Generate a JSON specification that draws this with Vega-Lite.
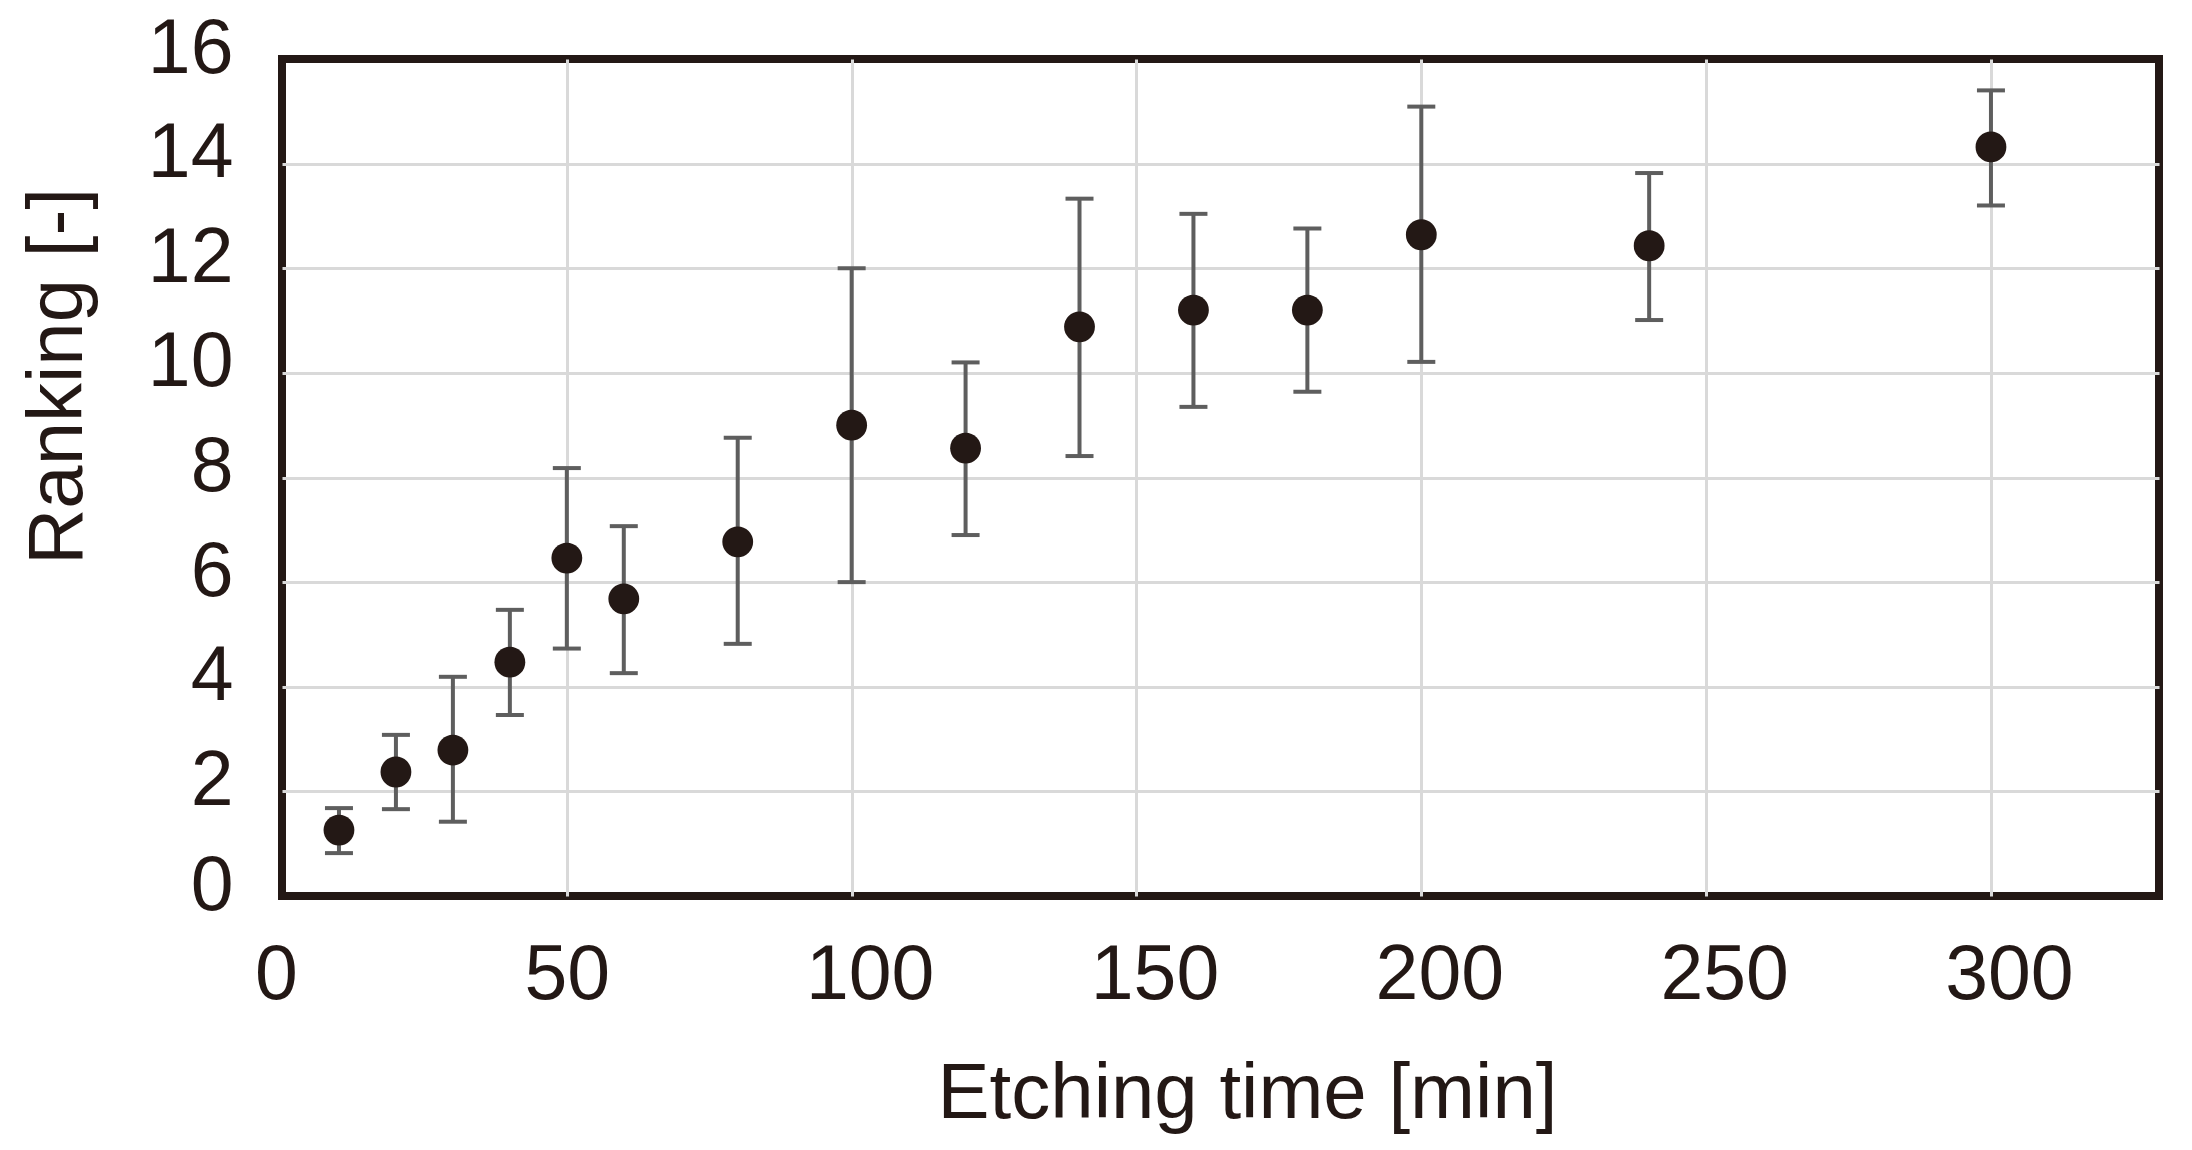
{
  "$schema": "https://vega.github.io/schema/vega-lite/v6.json",
  "width": 1877,
  "height": 837,
  "autosize": {"type": "none"},
  "padding": {"left": 282, "top": 59, "right": 33, "bottom": 254},
  "background": "#ffffff",
  "config": {
    "view": {"stroke": "#231815", "strokeWidth": 8},
    "font": "Liberation Sans",
    "axis": {
      "labelFont": "Liberation Sans",
      "titleFont": "Liberation Sans",
      "labelColor": "#231815",
      "titleColor": "#231815",
      "labelFontSize": 77,
      "titleFontSize": 78,
      "titleFontWeight": "normal",
      "domain": false,
      "ticks": false,
      "tickSize": 0,
      "gridColor": "#d9d9d9",
      "gridWidth": 3
    }
  },
  "data": {
    "values": [
      {"t": 10, "rank": 1.26, "lo": 0.82, "hi": 1.68},
      {"t": 20, "rank": 2.37, "lo": 1.66, "hi": 3.08},
      {"t": 30, "rank": 2.79, "lo": 1.42, "hi": 4.19},
      {"t": 40, "rank": 4.47, "lo": 3.46, "hi": 5.47},
      {"t": 50, "rank": 6.46, "lo": 4.73, "hi": 8.18},
      {"t": 60, "rank": 5.68, "lo": 4.26, "hi": 7.07},
      {"t": 80, "rank": 6.77, "lo": 4.82, "hi": 8.76},
      {"t": 100, "rank": 9.0, "lo": 6.0, "hi": 12.0},
      {"t": 120, "rank": 8.56, "lo": 6.9, "hi": 10.2},
      {"t": 140, "rank": 10.88, "lo": 8.41, "hi": 13.33},
      {"t": 160, "rank": 11.2, "lo": 9.35, "hi": 13.04},
      {"t": 180, "rank": 11.2, "lo": 9.64, "hi": 12.76},
      {"t": 200, "rank": 12.64, "lo": 10.21, "hi": 15.09},
      {"t": 240, "rank": 12.43, "lo": 11.01, "hi": 13.82},
      {"t": 300, "rank": 14.32, "lo": 13.2, "hi": 15.4}
    ]
  },
  "encoding": {
    "x": {
      "field": "t",
      "type": "quantitative",
      "scale": {"domain": [0, 329.5], "nice": false, "zero": false},
      "axis": {
        "values": [0, 50, 100, 150, 200, 250, 300],
        "title": "Etching time [min]",
        "labelPadding": 41,
        "labelFlush": false,
        "labelOffset": {"condition": [{"test": "datum.value >= 100", "value": 18}, {"test": "datum.value == 0", "value": -6}], "value": 0},
        "gridOpacity": {"condition": {"test": "datum.value == 0", "value": 0}, "value": 1},
        "titleX": 965,
        "titleY": 221,
        "titleBaseline": "alphabetic",
        "titleAlign": "center"
      }
    }
  },
  "layer": [
    {
      "mark": {"type": "rule", "color": "#5e5e5e", "strokeWidth": 4},
      "encoding": {
        "y": {
          "field": "lo",
          "type": "quantitative",
          "scale": {"domain": [0, 16], "nice": false},
          "axis": {
            "values": [0, 2, 4, 6, 8, 10, 12, 14, 16],
            "title": "Ranking [-]",
            "labelPadding": 49,
            "labelOffset": -10,
            "labelFlush": false,
            "gridOpacity": {"condition": {"test": "datum.value == 0 || datum.value == 16", "value": 0}, "value": 1},
            "titleAngle": -90,
            "titleX": -201,
            "titleY": 317,
            "titleBaseline": "alphabetic",
            "titleAlign": "center"
          }
        },
        "y2": {"field": "hi"}
      }
    },
    {
      "mark": {"type": "tick", "orient": "horizontal", "color": "#5e5e5e", "size": 28, "thickness": 4, "opacity": 1},
      "encoding": {"y": {"field": "lo", "type": "quantitative"}}
    },
    {
      "mark": {"type": "tick", "orient": "horizontal", "color": "#5e5e5e", "size": 28, "thickness": 4, "opacity": 1},
      "encoding": {"y": {"field": "hi", "type": "quantitative"}}
    },
    {
      "mark": {"type": "circle", "color": "#231815", "size": 950, "opacity": 1},
      "encoding": {"y": {"field": "rank", "type": "quantitative"}}
    }
  ]
}
